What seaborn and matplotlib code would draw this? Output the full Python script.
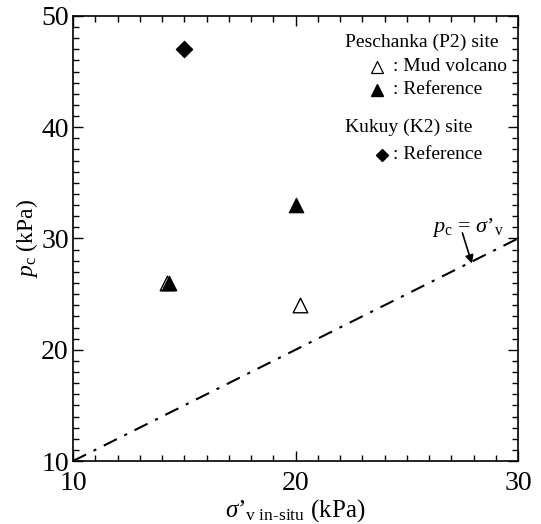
import matplotlib
matplotlib.use("Agg")
import matplotlib.pyplot as plt
from matplotlib.ticker import MultipleLocator
import seaborn as sns

# Preconsolidation pressure vs in-situ vertical effective stress
mud_x = [14.23, 20.2]
mud_y = [26.0, 24.0]
p2_ref_x = [14.3, 20.0]
p2_ref_y = [26.0, 33.0]
k2_ref_x = [15.0]
k2_ref_y = [47.0]
line_x = [10, 30]
line_y = [10, 30]

sns.set_theme(style="ticks")
plt.rcParams["font.family"] = ["Liberation Serif", "DejaVu Serif"]
plt.rcParams["mathtext.fontset"] = "custom"
plt.rcParams["mathtext.rm"] = "Liberation Serif"
plt.rcParams["mathtext.it"] = "Liberation Serif:italic"
plt.rcParams["text.color"] = "black"
plt.rcParams["axes.labelcolor"] = "black"
plt.rcParams["xtick.color"] = "black"
plt.rcParams["ytick.color"] = "black"

fig = plt.figure(figsize=(5.41, 5.24), dpi=100)
ax = fig.add_axes([0.135, 0.1202, 0.8225, 0.8493])

sns.lineplot(x=line_x, y=line_y, ax=ax, color="black", lw=1.5,
             linestyle=(0, (7, 4, 1.5, 4)))
sns.scatterplot(x=mud_x, y=mud_y, ax=ax, marker="^", s=110,
                facecolor="white", edgecolor="black", linewidth=1.0, zorder=3)
sns.scatterplot(x=p2_ref_x, y=p2_ref_y, ax=ax, marker="^", s=110,
                color="black", edgecolor="black", linewidth=0.8, zorder=4)
sns.scatterplot(x=k2_ref_x, y=k2_ref_y, ax=ax, marker="D", s=70,
                color="black", edgecolor="black", linewidth=0.8, zorder=4)

ax.set_xlim(10, 30)
ax.set_ylim(10, 50)
ax.xaxis.set_major_locator(MultipleLocator(10))
ax.xaxis.set_minor_locator(MultipleLocator(1))
ax.yaxis.set_major_locator(MultipleLocator(10))
ax.yaxis.set_minor_locator(MultipleLocator(1))
ax.tick_params(which="both", direction="in", top=True, right=True,
               colors="black", labelsize=20, width=1.0)
ax.tick_params(which="major", length=7)
ax.tick_params(axis="x", which="major", pad=7)
ax.tick_params(axis="y", which="major", pad=3)
ax.tick_params(which="minor", length=4)
for sp in ax.spines.values():
    sp.set_linewidth(1.2)
    sp.set_color("black")

ax.set_xlabel(r"$\sigma$’$_{\mathrm{v\ in\text{-}situ}}$ (kPa)", fontsize=18, labelpad=1)
ax.set_ylabel(r"$p_{\mathrm{c}}$ (kPa)", fontsize=17, labelpad=1)

# 1:1 line annotation
ax.text(27.75, 31.0, r"$p_{\mathrm{c}}$ = $\sigma$’$_{\mathrm{v}}$",
        ha="center", va="center", fontsize=16)
ax.annotate("", xy=(27.93, 27.75), xytext=(27.5, 30.5),
            arrowprops=dict(arrowstyle="-|>", color="black", lw=1.2,
                            mutation_scale=12, shrinkA=0, shrinkB=0))

# Key
def fx(px):
    return (px - 73) / 445

def fy(py):
    return (461 - py) / 445

tk = dict(transform=ax.transAxes, fontsize=14, va="center", color="black")
ax.text(fx(345), fy(42), "Peschanka (P2) site", ha="left", **tk)
ax.text(fx(393), fy(67), ": Mud volcano", ha="left", **tk)
ax.text(fx(393), fy(90), ": Reference", ha="left", **tk)
ax.text(fx(345), fy(127), "Kukuy (K2) site", ha="left", **tk)
ax.text(fx(393), fy(155), ": Reference", ha="left", **tk)
ax.plot([fx(377)], [fy(67)], transform=ax.transAxes, marker="^", ms=9,
        mfc="white", mec="black", mew=0.9, clip_on=False)
ax.plot([fx(377)], [fy(90)], transform=ax.transAxes, marker="^", ms=9,
        mfc="black", mec="black", clip_on=False)
ax.plot([fx(382)], [fy(155)], transform=ax.transAxes, marker="D", ms=6,
        mfc="black", mec="black", clip_on=False)

fig.savefig("out.png", dpi=100)
